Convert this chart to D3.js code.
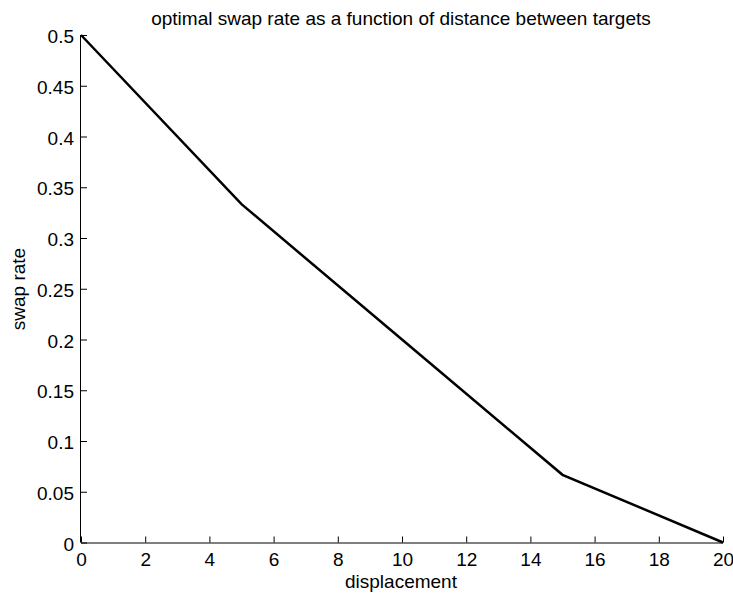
<!DOCTYPE html>
<html>
<head>
<meta charset="utf-8">
<script src="https://cdn.jsdelivr.net/npm/d3@7"></script>
<style>
  body { margin: 0; background: #fff; }
  text { font-family: "Liberation Sans", Arial, sans-serif; fill: #000; }
</style>
</head>
<body>
<div id="chart"></div>
<script>
// data
let displacement = [0, 5, 10, 15, 20]
let swapRate = [0.5, 0.3333, 0.2, 0.0667, 0]
let xTicks = [0, 2, 4, 6, 8, 10, 12, 14, 16, 18, 20]
let yTicks = [0, 0.05, 0.1, 0.15, 0.2, 0.25, 0.3, 0.35, 0.4, 0.45, 0.5]

let width = 733
let height = 600
let plotLeft = 81
let plotRight = 723
let plotTop = 35
let plotBottom = 542.5
let fontSize = 19

let svg = d3.select('#chart')
  .append('svg')
  .attr('width', width)
  .attr('height', height)

let xScale = d3.scaleLinear().domain([0, 20]).range([plotLeft, plotRight])
let yScale = d3.scaleLinear().domain([0, 0.5]).range([plotBottom, plotTop])

// x axis, ticks pointing inward
let xAxis = svg.append('g')
  .attr('transform', 'translate(0,' + plotBottom + ')')
  .call(d3.axisBottom(xScale).tickValues(xTicks).tickSize(-6).tickPadding(10).tickFormat(d3.format('d')))
xAxis.select('.domain').attr('stroke', '#000').attr('d', 'M' + plotLeft + ',0.5H' + plotRight)
xAxis.selectAll('.tick line').attr('stroke', '#000')
xAxis.selectAll('.tick text').attr('font-size', fontSize)

// y axis
let yAxis = svg.append('g')
  .attr('transform', 'translate(' + plotLeft + ',0)')
  .call(d3.axisLeft(yScale).tickValues(yTicks).tickSize(-6).tickPadding(7).tickFormat(d => d3.format('~g')(d)))
yAxis.select('.domain').attr('stroke', '#000').attr('d', 'M-0.5,' + plotTop + 'V' + plotBottom)
yAxis.selectAll('.tick line').attr('stroke', '#000')
yAxis.selectAll('.tick text').attr('font-size', fontSize).attr('dy', '0.4em')

// the curve
let line = d3.line()
  .x((d, i) => xScale(displacement[i]))
  .y(d => yScale(d))

svg.append('path')
  .datum(swapRate)
  .attr('fill', 'none')
  .attr('stroke', '#000')
  .attr('stroke-width', 2.5)
  .attr('d', line)

// labels
svg.append('text')
  .attr('x', 401)
  .attr('y', 25)
  .attr('text-anchor', 'middle')
  .attr('font-size', 19)
  .text('optimal swap rate as a function of distance between targets')

svg.append('text')
  .attr('x', 401)
  .attr('y', 588)
  .attr('text-anchor', 'middle')
  .attr('font-size', fontSize)
  .text('displacement')

svg.append('text')
  .attr('transform', 'translate(25,289) rotate(-90)')
  .attr('text-anchor', 'middle')
  .attr('font-size', fontSize)
  .text('swap rate')
</script>
</body>
</html>
